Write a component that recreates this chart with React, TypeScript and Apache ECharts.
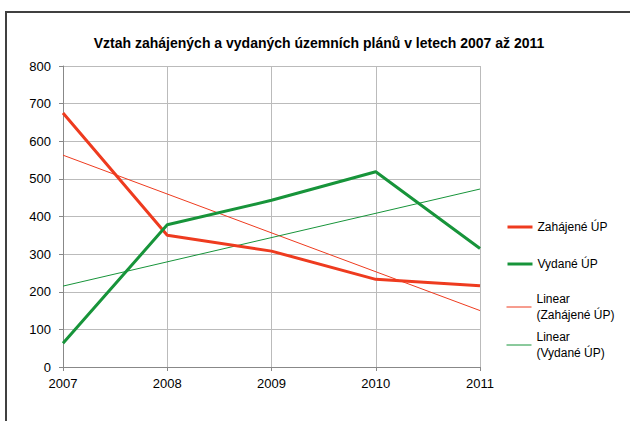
import React, { useEffect, useRef } from "react";
import * as echarts from "echarts";

const years = ["2007", "2008", "2009", "2010", "2011"];
const zahajene = [675, 350, 308, 233, 216];
const vydane = [63, 378, 443, 519, 315];
const trendZahajeneEnds = [563, 150];
const trendVydaneEnds = [215, 473];
const yTicks = [0, 100, 200, 300, 400, 500, 600, 700, 800];

const RED = "#EE3B1F";
const GREEN = "#17943A";
const FONT = "'Liberation Sans', Arial, sans-serif";

const names = ["Zahájené ÚP", "Vydané ÚP", "Linear (Zahájené ÚP)", "Linear (Vydané ÚP)"];

export default function App() {
  const ref = useRef<HTMLDivElement>(null);
  useEffect(() => {
    if (!ref.current) return;
    const chart = echarts.init(ref.current, undefined, { renderer: "svg" });
    const first = years[0];
    const last = years[years.length - 1];
    const legendBase = {
      orient: "vertical",
      left: 506,
      padding: 0,
      itemWidth: 25,
      itemHeight: 14,
      itemStyle: { opacity: 0 },
      textStyle: { fontFamily: FONT, fontSize: 12, color: "#000", lineHeight: 16 },
    };
    chart.setOption({
      animation: false,
      backgroundColor: "#fff",
      title: {
        text: "Vztah zahájených a vydaných územních plánů v letech 2007 až 2011",
        left: 314,
        textAlign: "center",
        top: 31,
        textStyle: { fontFamily: FONT, fontSize: 14, fontWeight: "bold", color: "#000" },
      },
      graphic: [
        {
          type: "polyline",
          shape: { points: [[6, 421], [6, 12], [630, 12]] },
          style: { stroke: "#404040", lineWidth: 2, fill: "none" },
          silent: true,
        },
      ],
      legend: [
        { ...legendBase, top: 219, data: [names[0]], lineStyle: { width: 3 } },
        { ...legendBase, top: 256, data: [names[1]], lineStyle: { width: 3 } },
        {
          ...legendBase,
          top: 283,
          data: [{ name: names[2], textStyle: { padding: [16, 0, 0, 0] } }],
          lineStyle: { width: 1 },
          formatter: () => "Linear\n(Zahájené ÚP)",
        },
        {
          ...legendBase,
          top: 321,
          data: [{ name: names[3], textStyle: { padding: [16, 0, 0, 0] } }],
          lineStyle: { width: 1 },
          formatter: () => "Linear\n(Vydané ÚP)",
        },
      ],
      grid: { left: 63, right: 150, top: 66, bottom: 54 },
      xAxis: {
        type: "category",
        data: years,
        boundaryGap: false,
        axisLine: { lineStyle: { color: "#888", width: 1 } },
        axisTick: { show: true, length: 4, lineStyle: { color: "#888" } },
        axisLabel: { fontFamily: FONT, fontSize: 13, color: "#000", margin: 10 },
        splitLine: { show: true, lineStyle: { color: "#bbb", width: 1 } },
      },
      yAxis: {
        type: "value",
        min: yTicks[0],
        max: yTicks[yTicks.length - 1],
        interval: 100,
        axisLine: { show: true, lineStyle: { color: "#888", width: 1 } },
        axisTick: { show: true, length: 4, lineStyle: { color: "#888" } },
        axisLabel: { fontFamily: FONT, fontSize: 13, color: "#000", margin: 12 },
        splitLine: { show: true, lineStyle: { color: "#bbb", width: 1 } },
      },
      series: [
        {
          name: names[0],
          type: "line",
          data: zahajene,
          symbol: "none",
          lineStyle: { color: RED, width: 3 },
          itemStyle: { color: RED },
          z: 3,
        },
        {
          name: names[1],
          type: "line",
          data: vydane,
          symbol: "none",
          lineStyle: { color: GREEN, width: 3 },
          itemStyle: { color: GREEN },
          z: 3,
        },
        {
          name: names[2],
          type: "line",
          data: [[first, trendZahajeneEnds[0]], [last, trendZahajeneEnds[1]]],
          symbol: "none",
          lineStyle: { color: RED, width: 1 },
          itemStyle: { color: RED },
          z: 2,
        },
        {
          name: names[3],
          type: "line",
          data: [[first, trendVydaneEnds[0]], [last, trendVydaneEnds[1]]],
          symbol: "none",
          lineStyle: { color: GREEN, width: 1 },
          itemStyle: { color: GREEN },
          z: 2,
        },
      ],
    });
    return () => chart.dispose();
  }, []);
  return (
    <div
      ref={ref}
      style={{ position: "fixed", left: 0, top: 0, width: 630, height: 421 }}
    />
  );
}
